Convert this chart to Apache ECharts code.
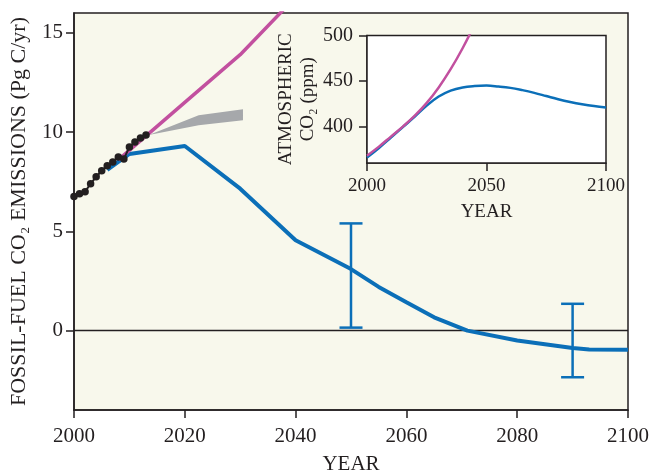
<!DOCTYPE html>
<html><head><meta charset="utf-8">
<script src="https://cdn.jsdelivr.net/npm/echarts@6/dist/echarts.min.js"></script>
<style>html,body{margin:0;padding:0;background:#fff}#c{width:650px;height:474px}</style>
</head><body><div id="c"></div>
<script>
// ---- Data ----
const obsYears = [2000, 2001, 2002, 2003, 2004, 2005, 2006, 2007, 2008, 2009, 2010, 2011, 2012, 2013];
const obsEmissions = [6.75, 6.9, 7.0, 7.4, 7.75, 8.05, 8.3, 8.5, 8.75, 8.65, 9.25, 9.5, 9.7, 9.85];
const highYears = [2008, 2020, 2030, 2040];
const highEmissions = [8.6, 11.5, 13.9, 16.8];
const pathYears = [2006, 2010, 2020, 2030, 2040, 2050, 2055, 2060, 2065, 2071, 2080, 2090, 2093, 2100];
const pathEmissions = [8.1, 8.9, 9.3, 7.15, 4.55, 3.1, 2.2, 1.43, 0.67, 0.0, -0.5, -0.88, -0.95, -0.97];
const bandYears = [2013.5, 2022.5, 2030.5];
const bandLow = [9.85, 10.35, 10.6];
const bandHigh = [9.85, 10.85, 11.15];
const errYears = [2050, 2090];
const errLow = [0.15, -2.35];
const errHigh = [5.4, 1.35];
const yTicks = [0, 5, 10, 15];

const insetHighYears = [2000, 2005, 2010, 2015, 2020, 2025, 2030, 2035, 2040, 2045];
const insetHighCO2 = [368, 378, 389, 400, 412, 426, 443, 463, 486, 512];
const insetPathYears = [2000, 2005, 2010, 2015, 2020, 2025, 2030, 2035, 2040, 2045, 2050, 2055, 2060, 2065, 2070, 2075, 2080, 2085, 2090, 2095, 2100];
const insetPathCO2 = [366, 376.5, 388, 399.5, 411, 423, 433, 439.5, 443, 444.5, 445, 444, 442.5, 440, 437, 433.5, 430, 427, 424.5, 422.5, 421];
const insetYTicks = [400, 450, 500];

// ---- Styles ----
const BLUE = '#0b6fb8', MAGENTA = '#c2509f', GRAY = '#a6a8ab', INK = '#231f20', CREAM = '#f8f8ec';
const FONT = '"Liberation Serif", "DejaVu Serif", serif';
const zip = (a, b) => a.map((v, i) => [v, b[i]]);
const plain = v => String(v);

const chart = echarts.init(document.getElementById('c'), null, {renderer: 'canvas'});
chart.setOption({
  animation: false,
  backgroundColor: '#ffffff',
  textStyle: {fontFamily: FONT, color: INK},
  grid: [
    {left: 74, right: 22, top: 13, bottom: 64, show: true, backgroundColor: CREAM, borderColor: INK, borderWidth: 1.5, containLabel: false, outerBoundsMode: 'none'},
    {left: 367, right: 44, top: 35.5, bottom: 311, show: true, backgroundColor: '#ffffff', borderColor: INK, borderWidth: 1.5, containLabel: false, outerBoundsMode: 'none', z: 5}
  ],
  xAxis: [
    {type: 'value', gridIndex: 0, min: 2000, max: 2100, interval: 20,
     name: 'YEAR', nameLocation: 'middle', nameGap: 44,
     nameTextStyle: {fontFamily: FONT, fontSize: 21, color: INK},
     axisLine: {show: true, onZero: false, lineStyle: {color: INK, width: 1.5}},
     axisTick: {show: true, inside: false, length: 8, lineStyle: {color: INK, width: 1.5}},
     axisLabel: {fontFamily: FONT, fontSize: 21, color: INK, margin: 16, formatter: plain},
     splitLine: {show: false}},
    {type: 'value', gridIndex: 1, min: 2000, max: 2100, interval: 50,
     name: 'YEAR', nameLocation: 'middle', nameGap: 40,
     nameTextStyle: {fontFamily: FONT, fontSize: 19, color: INK},
     axisLine: {show: true, onZero: false, lineStyle: {color: INK, width: 1.5}},
     axisTick: {show: true, inside: false, length: 8, lineStyle: {color: INK, width: 1.5}},
     axisLabel: {fontFamily: FONT, fontSize: 19, color: INK, margin: 14, formatter: plain},
     splitLine: {show: false}}
  ],
  yAxis: [
    {type: 'value', gridIndex: 0, min: -4, max: 16,
     name: 'FOSSIL-FUEL CO\u2082 EMISSIONS (Pg C/yr)', nameLocation: 'middle', nameRotate: 90, nameGap: 44,
     nameTextStyle: {fontFamily: FONT, fontSize: 22, color: INK},
     axisLine: {show: true, onZero: false, lineStyle: {color: INK, width: 1.5}},
     axisTick: {show: true, inside: false, length: 8, customValues: yTicks, lineStyle: {color: INK, width: 1.5}},
     axisLabel: {fontFamily: FONT, fontSize: 21, color: INK, margin: 11, customValues: yTicks, formatter: plain},
     splitLine: {show: false}},
    {type: 'value', gridIndex: 1, min: 360, max: 500,
     name: 'ATMOSPHERIC\nCO\u2082 (ppm)', nameLocation: 'middle', nameRotate: 90, nameGap: 48,
     nameTextStyle: {fontFamily: FONT, fontSize: 19, color: INK, lineHeight: 22},
     axisLine: {show: true, onZero: false, lineStyle: {color: INK, width: 1.5}},
     axisTick: {show: true, inside: false, length: 8, customValues: insetYTicks, lineStyle: {color: INK, width: 1.5}},
     axisLabel: {fontFamily: FONT, fontSize: 20, color: INK, margin: 14, customValues: insetYTicks, formatter: plain},
     splitLine: {show: false}}
  ],
  series: [
    {type: 'line', xAxisIndex: 0, yAxisIndex: 0, data: [[2000, 0], [2100, 0]],
     showSymbol: false, symbol: 'none', lineStyle: {color: INK, width: 1.5}, z: 1, silent: true},
    {type: 'custom', xAxisIndex: 0, yAxisIndex: 0, z: 2, silent: true,
     data: bandYears.map((y, i) => [y, bandLow[i], bandHigh[i]]),
     encode: {x: 0, y: [1, 2]},
     renderItem: function (params, api) {
       if (params.dataIndex !== 0) return null;
       const pts = [];
       for (let i = 0; i < bandYears.length; i++) pts.push(api.coord([bandYears[i], bandHigh[i]]));
       for (let i = bandYears.length - 1; i >= 0; i--) pts.push(api.coord([bandYears[i], bandLow[i]]));
       return {type: 'polygon', shape: {points: pts}, style: {fill: GRAY}};
     }},
    {type: 'line', xAxisIndex: 0, yAxisIndex: 0, data: zip(pathYears, pathEmissions), clip: true,
     symbol: 'none', lineStyle: {color: BLUE, width: 4}, z: 3, silent: true},
    {type: 'line', xAxisIndex: 0, yAxisIndex: 0, data: zip(highYears, highEmissions), clip: true,
     symbol: 'none', lineStyle: {color: MAGENTA, width: 3.5}, z: 4, silent: true},
    {type: 'custom', xAxisIndex: 0, yAxisIndex: 0, z: 4, silent: true,
     data: errYears.map((y, i) => [y, errLow[i], errHigh[i]]),
     encode: {x: 0, y: [1, 2]},
     renderItem: function (params, api) {
       const x = api.value(0);
       const top = api.coord([x, api.value(2)]);
       const bot = api.coord([x, api.value(1)]);
       const hw = 11.5;
       const st = {stroke: BLUE, lineWidth: 2.5, fill: null};
       return {type: 'group', children: [
         {type: 'line', shape: {x1: top[0], y1: top[1], x2: bot[0], y2: bot[1]}, style: st},
         {type: 'line', shape: {x1: top[0] - hw, y1: top[1], x2: top[0] + hw, y2: top[1]}, style: st},
         {type: 'line', shape: {x1: bot[0] - hw, y1: bot[1], x2: bot[0] + hw, y2: bot[1]}, style: st}
       ]};
     }},
    {type: 'line', xAxisIndex: 0, yAxisIndex: 0, data: zip(obsYears, obsEmissions), clip: false,
     symbol: 'circle', symbolSize: 7.5, showAllSymbol: true,
     itemStyle: {color: INK, borderWidth: 0}, lineStyle: {color: INK, width: 2}, z: 6, silent: true},
    {type: 'line', xAxisIndex: 1, yAxisIndex: 1, data: zip(insetPathYears, insetPathCO2), clip: true,
     symbol: 'none', smooth: 0.4, lineStyle: {color: BLUE, width: 2.5}, z: 10, silent: true},
    {type: 'line', xAxisIndex: 1, yAxisIndex: 1, data: zip(insetHighYears, insetHighCO2), clip: true,
     symbol: 'none', smooth: 0.4, lineStyle: {color: MAGENTA, width: 2.5}, z: 11, silent: true}
  ]
});
</script></body></html>
